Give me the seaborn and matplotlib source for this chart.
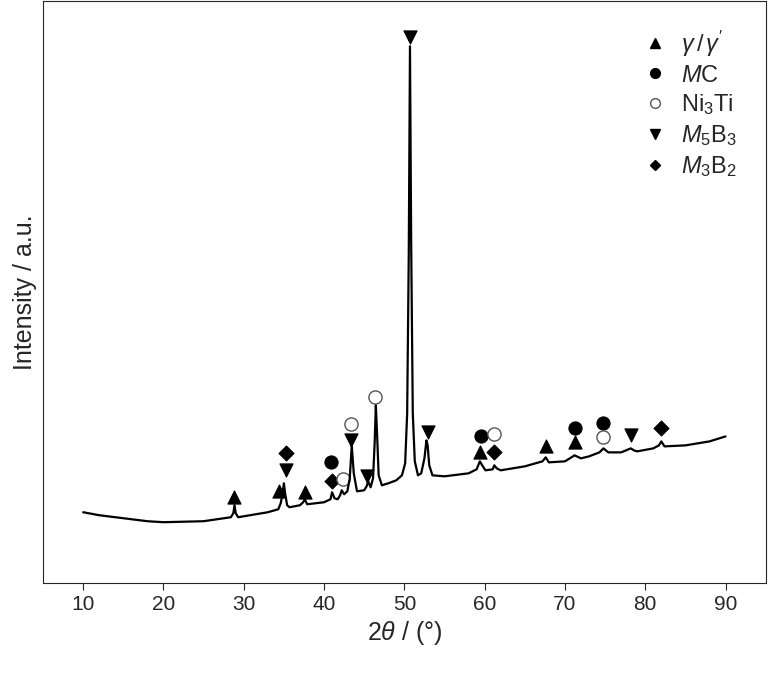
import matplotlib
matplotlib.use("Agg")
import matplotlib.pyplot as plt
from matplotlib.lines import Line2D
import pandas as pd
import seaborn as sns

sns.set_style("ticks")
plt.rcParams['font.family'] = ['Liberation Sans', 'DejaVu Sans']
plt.rcParams['mathtext.fontset'] = 'custom'
plt.rcParams['mathtext.rm'] = 'Liberation Sans'
plt.rcParams['mathtext.it'] = 'Liberation Sans:italic'

# XRD trace (intensity in arbitrary units)
two_theta = [10, 12, 15, 18, 20, 25, 28.4, 28.7, 28.85, 29.0, 29.3, 33, 34.3, 34.6, 34.8,
             35.0, 35.15, 35.4, 35.7, 37, 37.4, 37.6, 37.9, 40, 40.8, 41.0, 41.3, 41.7,
             42.0, 42.2, 42.5, 42.9, 43.2, 43.45, 43.7, 44.1, 45, 45.3, 45.5, 45.8, 46.1,
             46.3, 46.45, 46.6, 46.8, 47.2, 48, 49, 49.7, 50.1, 50.35, 50.55, 50.7, 50.85,
             51.05, 51.3, 51.7, 52.1, 52.5, 52.75, 52.9, 53.1, 53.5, 55, 58, 59.0, 59.4,
             59.7, 60.1, 61, 61.2, 61.5, 62, 65, 67.2, 67.6, 68.0, 70, 71.2, 72, 73, 74.3,
             74.8, 75.4, 77, 78.2, 78.6, 79, 81, 81.7, 82.0, 82.4, 85, 88, 90]
intensity = [71, 68, 65, 62, 61, 62, 66, 70, 78, 70, 66, 71, 74, 80, 88,
             100, 90, 78, 76, 78, 81, 84, 79, 81, 84, 91, 85, 84,
             88, 93, 89, 92, 105, 138, 110, 92, 93, 97, 102, 96, 105,
             140, 178, 150, 108, 98, 100, 103, 108, 120, 170, 330, 538, 340,
             170, 122, 108, 110, 125, 143, 138, 118, 108, 107, 110, 114, 122,
             118, 113, 114, 118, 115, 113, 117, 122, 126, 121, 122, 128, 125, 127, 131,
             135, 131, 131, 135, 133, 132, 135, 138, 142, 137, 138, 142, 147]

# phase markers
tri_up_x = [28.8, 34.4, 37.6, 59.4, 67.6, 71.3]
tri_up_y = [86, 92, 91, 131, 137, 141]
tri_dn_x = [35.2, 43.4, 45.4, 50.7, 52.9, 78.2]
tri_dn_y = [113, 143, 107, 547, 151, 148]
dia_x = [35.2, 41.0, 61.2, 82.0]
dia_y = [130, 102, 131, 155]
mc_x = [40.9, 59.5, 71.3, 74.8]
mc_y = [121, 147, 155, 160]
ni3ti_x = [42.4, 43.3, 46.4, 61.2, 74.8]
ni3ti_y = [104, 159, 186, 149, 146]

df = pd.DataFrame({'x': two_theta, 'y': intensity})

fig = plt.figure(figsize=(7.68, 6.78), dpi=100)
ax = fig.add_axes([0.056, 0.140, 0.941, 0.858])

sns.lineplot(data=df, x='x', y='y', ax=ax, color='black', linewidth=1.6)
ms = 90
sns.scatterplot(x=tri_up_x, y=tri_up_y, ax=ax, marker='^', color='black', s=ms, edgecolor='black')
sns.scatterplot(x=tri_dn_x, y=tri_dn_y, ax=ax, marker='v', color='black', s=ms, edgecolor='black')
sns.scatterplot(x=dia_x, y=dia_y, ax=ax, marker='D', color='black', s=60, edgecolor='black')
sns.scatterplot(x=mc_x, y=mc_y, ax=ax, marker='o', color='black', s=ms, edgecolor='black')
sns.scatterplot(x=ni3ti_x, y=ni3ti_y, ax=ax, marker='o', facecolor='white', s=ms,
                edgecolor='#555555', linewidth=1)

ax.set_xlim(5, 95)
ax.set_ylim(0, 583)
ax.set_xticks(range(10, 91, 10))
ax.set_yticks([])
ax.tick_params(axis='x', labelsize=15, direction='out', length=5)
ax.set_xlabel(r'2$\it{\theta}$ / (°)', fontsize=18)
ax.set_ylabel('Intensity / a.u.', fontsize=18)

handles = [
    Line2D([], [], marker='^', ls='', color='black', markersize=7),
    Line2D([], [], marker='o', ls='', color='black', markersize=7),
    Line2D([], [], marker='o', ls='', markerfacecolor='white', markeredgecolor='#555555', markersize=7),
    Line2D([], [], marker='v', ls='', color='black', markersize=7),
    Line2D([], [], marker='D', ls='', color='black', markersize=5.5),
]
labels = [r'$\gamma\,/\,\gamma^{\prime}$', r'$M$C', r'Ni$_3$Ti', r'$M_5$B$_3$', r'$M_3$B$_2$']
ax.legend(handles, labels, loc='upper right', frameon=False, fontsize=17,
          handletextpad=0.1, labelspacing=0.25, bbox_to_anchor=(0.99, 0.99))

plt.savefig('out.png', dpi=100)
